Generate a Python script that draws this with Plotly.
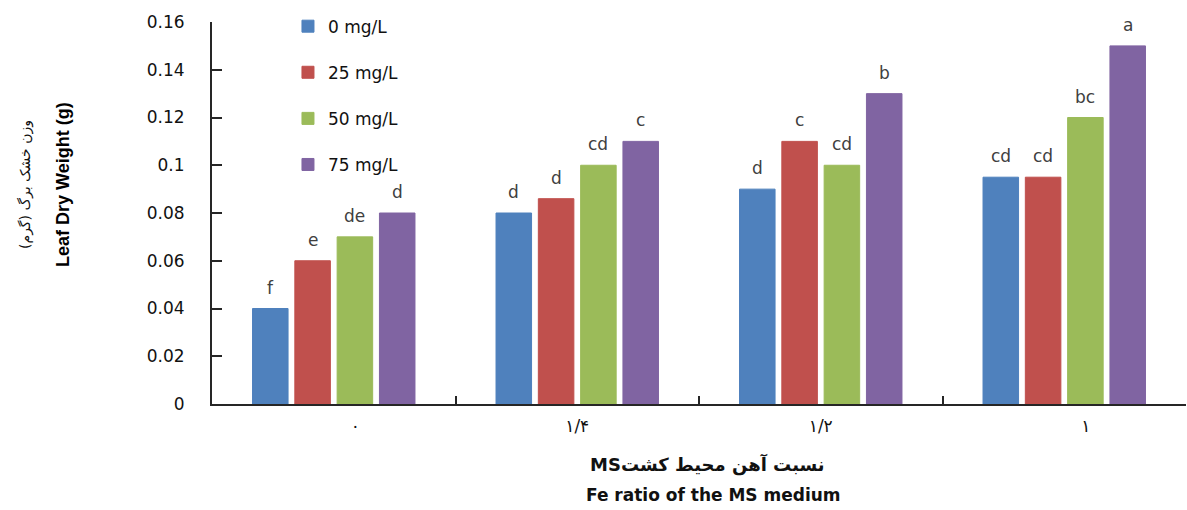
import plotly.graph_objects as go

categories = ["\u00a0" * 8 + "۰", "۱/۴", "۱/۲", "\u00a0" * 8 + "۱"]
series_names = ["0 mg/L", "25 mg/L", "50 mg/L", "75 mg/L"]
values = {
    "0 mg/L": [0.04, 0.08, 0.09, 0.095],
    "25 mg/L": [0.06, 0.086, 0.11, 0.095],
    "50 mg/L": [0.07, 0.10, 0.10, 0.12],
    "75 mg/L": [0.08, 0.11, 0.13, 0.15],
}
letters = {
    "0 mg/L": ["f", "d", "d", "cd"],
    "25 mg/L": ["e", "d", "c", "cd"],
    "50 mg/L": ["de", "cd", "cd", "bc"],
    "75 mg/L": ["d", "c", "b", "a"],
}
colors = ["#4F81BD", "#C0504D", "#9BBB59", "#8064A2"]
y_tickvals = [0, 0.02, 0.04, 0.06, 0.08, 0.10, 0.12, 0.14, 0.16]
y_ticktext = ["0", "0.02", "0.04", "0.06", "0.08", "0.1", "0.12", "0.14", "0.16"]

FONT = "DejaVu Sans"
W, H = 1187, 510
ML, MR, MT, MB = 212, 1, 22, 106
BARGAP = 0.305
BARGROUPGAP = 0.16

fig = go.Figure()
for i, name in enumerate(series_names):
    fig.add_trace(go.Bar(
        x=categories, y=values[name], name=name,
        marker=dict(color=colors[i], line=dict(color=colors[i], width=1)),
        legendgroup=name,
    ))

# significance letters above each bar, offset to the bar's slot within the group
plot_w = W - ML - MR
cat_w = plot_w / len(categories)
slot_w = cat_w * (1 - BARGAP) / len(series_names)
for i, name in enumerate(series_names):
    for c, v, t in zip(categories, values[name], letters[name]):
        fig.add_annotation(
            x=c, y=v, xref="x", yref="y", text=t, showarrow=False,
            xanchor="center", yanchor="bottom",
            xshift=(i - (len(series_names) - 1) / 2) * slot_w, yshift=9,
            font=dict(family=FONT, size=17, color="#404040"),
        )

fig.update_layout(
    barmode="group", bargap=BARGAP, bargroupgap=BARGROUPGAP,
    width=W, height=H,
    margin=dict(l=ML, r=MR, t=MT, b=MB),
    paper_bgcolor="white", plot_bgcolor="white",
    font=dict(family=FONT, size=17, color="#111111"),
    showlegend=True,
    legend=dict(x=0.078, y=1.035, xanchor="left", yanchor="top",
                traceorder="grouped", tracegroupgap=21,
                font=dict(family=FONT, size=17, color="#111111"),
                bgcolor="rgba(0,0,0,0)"),
)
fig.update_xaxes(
    showline=True, linecolor="#262626", linewidth=2,
    ticks="inside", ticklen=8, tickwidth=1.5, tickcolor="#262626",
    tickson="boundaries", showgrid=False,
    tickfont=dict(family=FONT, size=17, color="#111111"),
    ticklabelstandoff=6,
)
fig.update_yaxes(
    range=[0, 0.16], tickvals=y_tickvals, ticktext=y_ticktext,
    showline=True, linecolor="#262626", linewidth=2,
    ticks="inside", ticklen=10, tickwidth=1.5, tickcolor="#262626",
    showgrid=False, zeroline=False,
    tickfont=dict(family=FONT, size=17, color="#111111"),
    ticklabelstandoff=22,
)

titles = [
    dict(text="\u202bوزن خشک برگ (گرم)\u202c", x=25, y=185, textangle=-90,
         font=dict(family=FONT, size=14, color="#111111")),
    dict(text="<b>Leaf Dry Weight (g)</b>", x=63, y=185, textangle=-90,
         font=dict(family="Liberation Sans", size=18, color="#000000")),
    dict(text="<b>\u202bنسبت آهن محیط کشتMS\u202c</b>", x=707, y=465,
         font=dict(family=FONT, size=18, color="#111111")),
    dict(text="<b>Fe ratio of the MS medium</b>", x=713, y=495,
         font=dict(family=FONT, size=17, color="#111111")),
]
for a in titles:
    fig.add_annotation(
        text=a["text"], xref="paper", yref="paper",
        x=(a["x"] - ML) / plot_w,
        y=(H - MB - a["y"]) / (H - MT - MB),
        showarrow=False, textangle=a.get("textangle", 0),
        xanchor="center", yanchor="middle", font=a["font"],
    )

fig.write_html("out.html")
